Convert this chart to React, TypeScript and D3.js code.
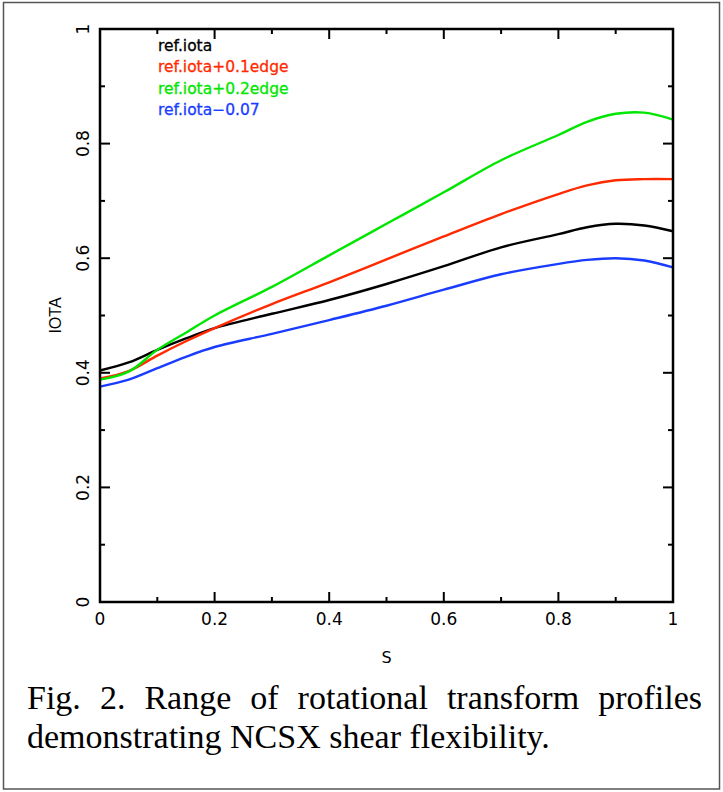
import * as React from 'react';
import * as d3 from 'd3';

// radial coordinate s
const sValues = [0, 0.05, 0.1, 0.15, 0.2, 0.3, 0.4, 0.5, 0.6, 0.7, 0.8, 0.85, 0.9, 0.95, 1];
// iota profiles
const refIota = [0.404, 0.418, 0.44, 0.46, 0.478, 0.503, 0.527, 0.555, 0.586, 0.619, 0.642, 0.654, 0.66, 0.657, 0.647];
const refIotaP1 = [0.39, 0.403, 0.43, 0.455, 0.478, 0.52, 0.558, 0.598, 0.638, 0.677, 0.712, 0.727, 0.736, 0.738, 0.738];
const refIotaP2 = [0.388, 0.402, 0.44, 0.47, 0.5, 0.55, 0.605, 0.66, 0.715, 0.771, 0.815, 0.838, 0.852, 0.854, 0.842];
const refIotaM07 = [0.376, 0.388, 0.408, 0.428, 0.445, 0.468, 0.492, 0.517, 0.545, 0.572, 0.59, 0.597, 0.6, 0.596, 0.584];

const seriesNames = ['ref.iota', 'ref.iota+0.1edge', 'ref.iota+0.2edge', 'ref.iota\u22120.07'];
const seriesColors = ['#000000', '#ff2a00', '#00e600', '#1a3cff'];
const seriesValues = [refIota, refIotaP1, refIotaP2, refIotaM07];

const majorTicks = [0, 0.2, 0.4, 0.6, 0.8, 1];
const minorTicks = [0.1, 0.3, 0.5, 0.7, 0.9];
const tickLabels = ['0', '0.2', '0.4', '0.6', '0.8', '1'];

const captionLines = ['Fig. 2. Range of rotational transform profiles', 'demonstrating NCSX shear flexibility.'];

const W = 723;
const H = 792;
const margin = { left: 100, right: 50, top: 29, bottom: 191 };

export default function App() {
	const ref = React.useRef<SVGSVGElement>(null);

	React.useEffect(() => {
		const svg = d3.select(ref.current);
		svg.selectAll('*').remove();

		// outer frame
		svg.append('rect')
			.attr('x', 3.5).attr('y', 2.5).attr('width', W - 7).attr('height', H - 5.5)
			.attr('fill', 'none').attr('stroke', '#555').attr('stroke-width', 1.5);

		const x = d3.scaleLinear().domain([0, 1]).range([margin.left, W - margin.right]);
		const y = d3.scaleLinear().domain([0, 1]).range([H - margin.bottom + 1, margin.top]);
		const [x0, x1] = x.range();
		const [y0, y1] = y.range();

		const g = svg.append('g');

		// curves
		const line = d3.line<number>()
			.x((_, i) => x(sValues[i]))
			.y((d) => y(d))
			.curve(d3.curveCatmullRom.alpha(0.5));
		seriesValues.forEach((vals, k) => {
			g.append('path')
				.attr('d', line(vals))
				.attr('fill', 'none')
				.attr('stroke', seriesColors[k])
				.attr('stroke-width', 2.4);
		});

		// ticks on all four sides, pointing inward
		const tick = (v: number, len: number) => {
			g.append('line').attr('x1', x(v)).attr('x2', x(v)).attr('y1', y0).attr('y2', y0 - len);
			g.append('line').attr('x1', x(v)).attr('x2', x(v)).attr('y1', y1).attr('y2', y1 + len);
			g.append('line').attr('y1', y(v)).attr('y2', y(v)).attr('x1', x0).attr('x2', x0 + len);
			g.append('line').attr('y1', y(v)).attr('y2', y(v)).attr('x1', x1).attr('x2', x1 - len);
		};
		majorTicks.forEach((v) => tick(v, 10));
		minorTicks.forEach((v) => tick(v, 5));
		g.selectAll('line').attr('stroke', '#000').attr('stroke-width', 2);

		// frame
		g.append('rect')
			.attr('x', x0).attr('y', y1).attr('width', x1 - x0).attr('height', y0 - y1)
			.attr('fill', 'none').attr('stroke', '#000').attr('stroke-width', 2.5);

		const sans = 'DejaVu Sans, Verdana, sans-serif';

		// x tick labels
		majorTicks.forEach((v, i) => {
			svg.append('text')
				.attr('x', x(v)).attr('y', 624.5)
				.attr('text-anchor', 'middle')
				.attr('font-family', sans).attr('font-size', 17)
				.text(tickLabels[i]);
		});
		// y tick labels (rotated)
		majorTicks.forEach((v, i) => {
			svg.append('text')
				.attr('transform', `translate(89,${y(v)}) rotate(-90)`)
				.attr('text-anchor', 'middle')
				.attr('font-family', sans).attr('font-size', 17)
				.text(tickLabels[i]);
		});

		// axis titles
		svg.append('text')
			.attr('x', (x0 + x1) / 2).attr('y', 663)
			.attr('text-anchor', 'middle')
			.attr('font-family', sans).attr('font-size', 16)
			.text('S');
		svg.append('text')
			.attr('transform', `translate(61,${(y0 + y1) / 2}) rotate(-90)`)
			.attr('text-anchor', 'middle')
			.attr('font-family', 'Liberation Sans, Arial, sans-serif').attr('font-size', 16)
			.text('IOTA');

		// legend
		seriesNames.forEach((name, k) => {
			svg.append('text')
				.attr('x', 158).attr('y', 51 + k * 21.3)
				.attr('font-family', sans).attr('font-size', 15.5)
				.attr('fill', seriesColors[k])
				.attr('stroke', seriesColors[k]).attr('stroke-width', 0.3)
				.text(name);
		});

		// caption, first line justified
		const capLeft = 27;
		const capRight = 702;
		captionLines.forEach((lineText, li) => {
			const words = lineText.split(' ');
			const baseY = 709 + li * 39;
			const nodes = words.map((w) =>
				svg.append('text')
					.attr('y', baseY)
					.attr('font-family', 'Liberation Serif, Times New Roman, serif')
					.attr('font-size', 34)
					.text(w)
			);
			const widths = nodes.map((n) => (n.node() as SVGTextElement).getComputedTextLength());
			const total = d3.sum(widths);
			const gap = li === 0 ? (capRight - capLeft - total) / (words.length - 1) : 8.5;
			let cx = capLeft;
			nodes.forEach((n, i) => {
				n.attr('x', cx);
				cx += widths[i] + gap;
			});
		});
	}, []);

	return (
		<svg
			ref={ref}
			width={W}
			height={H}
			style={{ position: 'absolute', left: 0, top: 0, background: '#fff' }}
		/>
	);
}
